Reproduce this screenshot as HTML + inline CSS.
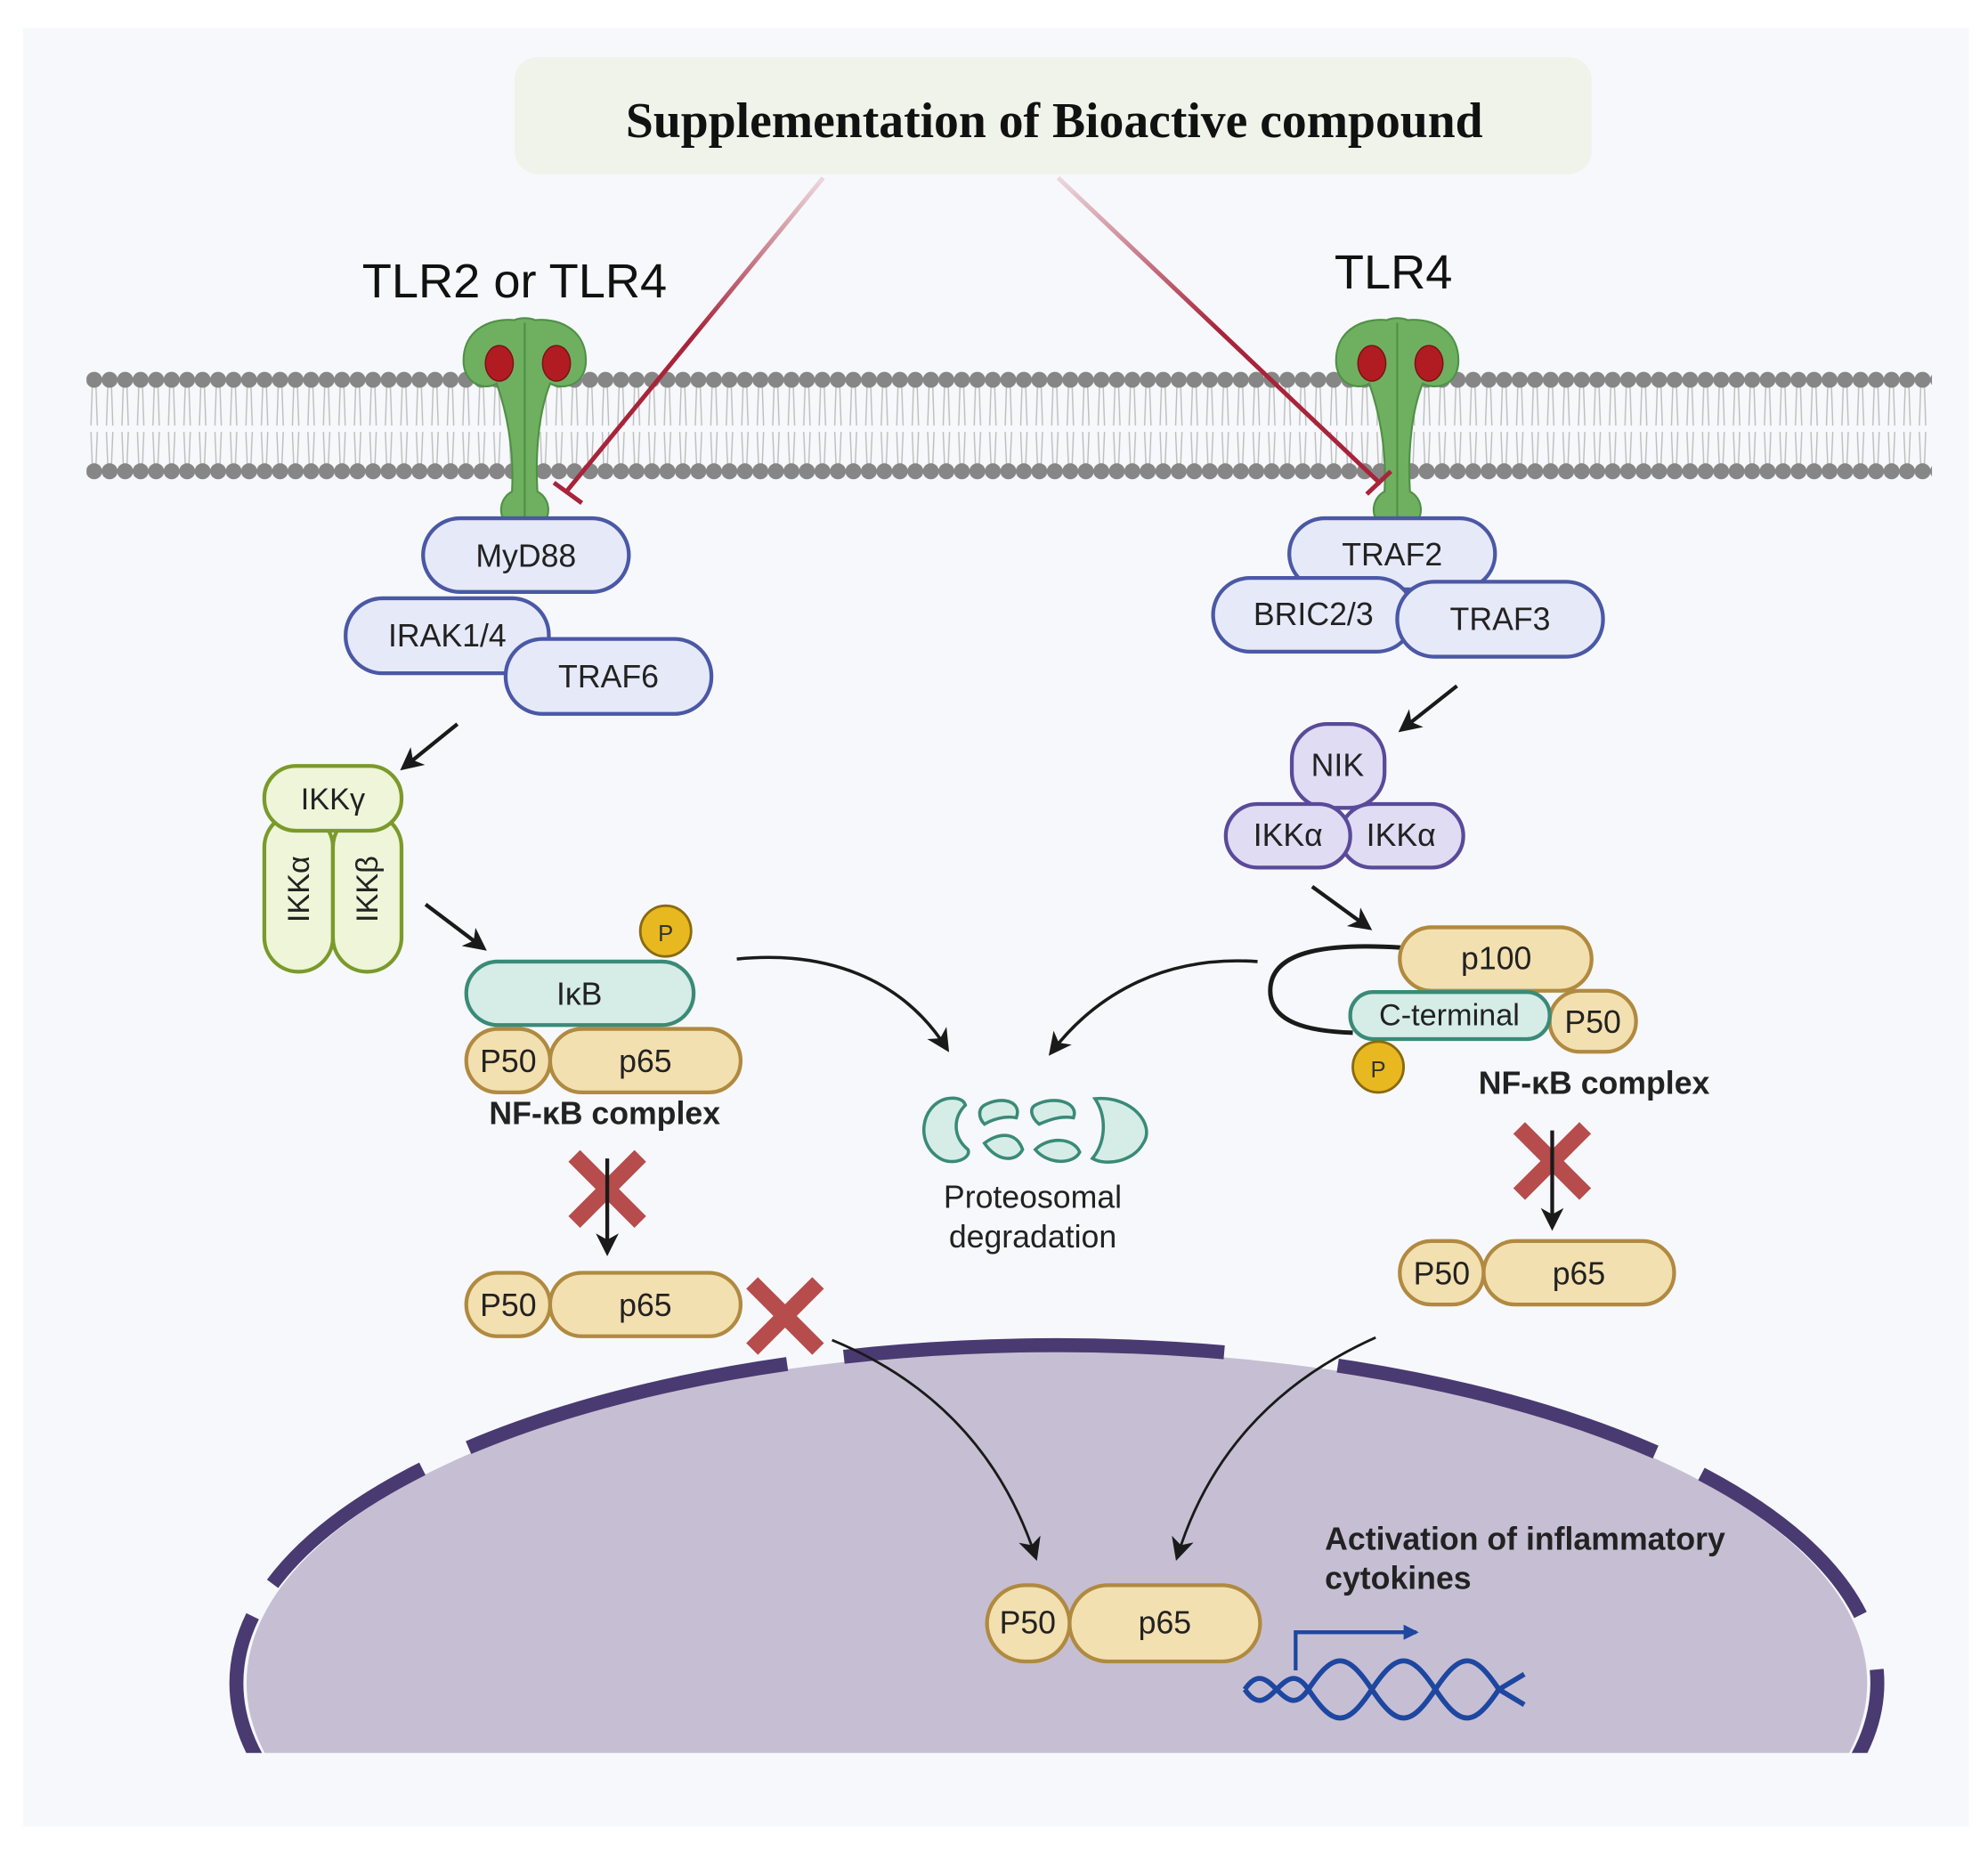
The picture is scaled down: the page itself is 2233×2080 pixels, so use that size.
<!DOCTYPE html>
<html><head><meta charset="utf-8"><style>
html,body{margin:0;padding:0;background:#fff;overflow:hidden;width:2233px;height:2080px;}
svg{display:block;}
text{font-family:"Liberation Sans","DejaVu Sans",sans-serif;}
</style></head><body>
<svg width="2233" height="2080" viewBox="0 0 1565 1458" xmlns="http://www.w3.org/2000/svg">
<defs>
<pattern id="lip" x="68" y="0" width="12.2" height="1458" patternUnits="userSpaceOnUse">
<path d="M4.5 305 L3.5 335 M7.5 305 L8.5 335 M3.5 340 L4.5 365 M8.5 340 L7.5 365" stroke="#bdbdbd" stroke-width="1" fill="none"/>
<circle cx="6" cy="299" r="6.3" fill="#868686"/>
<circle cx="6" cy="371" r="6.3" fill="#868686"/>
</pattern>
<linearGradient id="g1" x1="0" y1="0" x2="0" y2="1"><stop offset="0" stop-color="#a8243a" stop-opacity="0.15"/><stop offset="0.5" stop-color="#a8243a"/></linearGradient>
<marker id="ar2" markerWidth="18" markerHeight="18" refX="14" refY="9" orient="auto" markerUnits="userSpaceOnUse" viewBox="0 0 18 18"><path d="M0 0 L18 9 L0 18 L5 9Z" fill="#1a1a1a"/></marker>
<marker id="arb" markerWidth="14" markerHeight="14" refX="10" refY="7" orient="auto" markerUnits="userSpaceOnUse"><path d="M0 1 L12 7 L0 13Z" fill="#1d47a0"/></marker>
<clipPath id="nc"><rect x="0" y="0" width="1565" height="1380"/></clipPath>
<g id="rec">
<path d="M-8 -40 C-30 -42 -50 -30 -48 -5 C-46 12 -30 15 -22 10 C-15 30 -8 60 -10 95 C-20 100 -22 115 -12 122 C-5 126 5 126 12 122 C22 115 20 100 10 95 C8 60 12 30 20 10 C30 15 46 12 48 -5 C50 -30 30 -42 8 -40 C4 -42 -4 -42 -8 -40Z" fill="#6fb060" stroke="#4e9146" stroke-width="1.5"/>
<path d="M0 -38 L0 122" stroke="#4e9146" stroke-width="1.5"/>
<ellipse cx="-20" cy="-6" rx="11" ry="14" fill="#b01c22" stroke="#7a1015"/>
<ellipse cx="25" cy="-6" rx="11" ry="14" fill="#b01c22" stroke="#7a1015"/>
</g>
</defs>
<rect x="0" y="0" width="1565" height="1458" fill="#fff"/>
<rect x="18" y="22" width="1532" height="1416" fill="#f7f8fb"/>
<rect x="405" y="45" width="848" height="92" rx="18" fill="#eff3ea"/>
<text x="830" y="108" text-anchor="middle" font-weight="bold" font-size="39" fill="#111" style="font-family:'Liberation Serif',serif">Supplementation of Bioactive compound</text>
<text x="405" y="234" text-anchor="middle" font-size="38" fill="#111">TLR2 or TLR4</text>
<text x="1097" y="227" text-anchor="middle" font-size="38" fill="#111">TLR4</text>
<rect x="68" y="288" width="1453" height="95" fill="url(#lip)"/>
<use href="#rec" x="413" y="292"/>
<use href="#rec" x="1100" y="292"/>
<path d="M648 140 L445 388" stroke="url(#g1)" stroke-width="3.5" fill="none"/>
<path d="M436 380 L458 396" stroke="#a8243a" stroke-width="3.5"/>
<path d="M833 140 L1087 381" stroke="url(#g1)" stroke-width="3.5" fill="none"/>
<path d="M1076 389 L1095 371" stroke="#a8243a" stroke-width="3.5"/>
<g stroke="#4a58a6" stroke-width="3" fill="#e6eaf8">
<rect x="333" y="408" width="162" height="58" rx="29"/>
<rect x="272" y="471" width="160" height="59" rx="29"/>
<rect x="398" y="503" width="162" height="59" rx="29"/>
<rect x="1015" y="408" width="162" height="56" rx="28"/>
<rect x="955" y="455" width="158" height="58" rx="29"/>
<rect x="1100" y="458" width="162" height="59" rx="29"/>
</g>
<g font-size="25" fill="#222" text-anchor="middle">
<text x="414" y="446">MyD88</text>
<text x="352" y="509">IRAK1/4</text>
<text x="479" y="541">TRAF6</text>
<text x="1096" y="445">TRAF2</text>
<text x="1034" y="492">BRIC2/3</text>
<text x="1181" y="496">TRAF3</text>
</g>
<g stroke="#1a1a1a" stroke-width="3" fill="none" marker-end="url(#ar2)">
<path d="M360 570 L318 604"/>
<path d="M1147 540 L1104 574"/>
<path d="M335 712 L380 746"/>
<path d="M1033 698 L1077 730"/>
</g>
<g stroke="#7a9a2a" stroke-width="3" fill="#eef5d8">
<rect x="208" y="640" width="54" height="125" rx="27"/>
<rect x="262" y="640" width="54" height="125" rx="27"/>
<rect x="208" y="603" width="108" height="51" rx="25"/>
</g>
<text x="262" y="637" text-anchor="middle" font-size="24" fill="#222">IKKγ</text>
<text transform="translate(243 700) rotate(-90)" text-anchor="middle" font-size="24" fill="#222">IKKα</text>
<text transform="translate(297 700) rotate(-90)" text-anchor="middle" font-size="24" fill="#222">IKKβ</text>
<circle cx="524" cy="733" r="20" fill="#e8b820" stroke="#8a6a10" stroke-width="2"/>
<text x="524" y="741" text-anchor="middle" font-size="18" fill="#333">P</text>
<rect x="367" y="757" width="179" height="50" rx="25" fill="#d5ede6" stroke="#3a8a78" stroke-width="3"/>
<text x="456" y="791" text-anchor="middle" font-size="25" fill="#222">IκB</text>
<g stroke="#b08a40" stroke-width="3" fill="#f3e0b0">
<rect x="433" y="810" width="150" height="50" rx="25"/>
<rect x="367" y="810" width="66" height="50" rx="25"/>
<rect x="433" y="1002" width="150" height="50" rx="25"/>
<rect x="367" y="1002" width="66" height="50" rx="25"/>
<rect x="1168" y="977" width="150" height="50" rx="25"/>
<rect x="1102" y="977" width="66" height="50" rx="25"/>
</g>
<g font-size="25" fill="#222" text-anchor="middle">
<text x="400" y="844">P50</text><text x="508" y="844">p65</text>
<text x="400" y="1036">P50</text><text x="508" y="1036">p65</text>
<text x="1135" y="1011">P50</text><text x="1243" y="1011">p65</text>
</g>
<text x="476" y="885" text-anchor="middle" font-size="25" font-weight="bold" fill="#222">NF-κB complex</text>
<g stroke="#b03a3a" stroke-width="13" opacity="0.9">
<path d="M452 910 L504 962 M504 910 L452 962"/>
<path d="M592 1010 L644 1062 M644 1010 L592 1062"/>
<path d="M1196 888 L1248 940 M1248 888 L1196 940"/>
</g>
<g stroke="#1a1a1a" stroke-width="3" marker-end="url(#ar2)">
<path d="M478 912 L478 985"/>
<path d="M1222 890 L1222 965"/>
</g>
<g stroke="#5a4a9a" stroke-width="3" fill="#e0dcf3">
<rect x="1017" y="570" width="73" height="66" rx="28"/>
<rect x="1055" y="633" width="97" height="50" rx="25"/>
<rect x="965" y="633" width="98" height="50" rx="25"/>
</g>
<g font-size="25" fill="#222" text-anchor="middle">
<text x="1053" y="611">NIK</text>
<text x="1014" y="666">IKKα</text>
<text x="1103" y="666">IKKα</text>
</g>
<path d="M1103 746 C1040 742 1000 750 1000 780 C1000 805 1030 812 1065 813" stroke="#1a1a1a" stroke-width="3.5" fill="none"/>
<rect x="1102" y="730" width="151" height="50" rx="25" fill="#f3e0b0" stroke="#b08a40" stroke-width="3"/>
<text x="1178" y="763" text-anchor="middle" font-size="25" fill="#222">p100</text>
<rect x="1220" y="780" width="68" height="48" rx="24" fill="#f3e0b0" stroke="#b08a40" stroke-width="3"/>
<text x="1254" y="813" text-anchor="middle" font-size="25" fill="#222">P50</text>
<rect x="1063" y="781" width="157" height="37" rx="18" fill="#d5ede6" stroke="#3a8a78" stroke-width="3"/>
<text x="1141" y="807" text-anchor="middle" font-size="24" fill="#222">C-terminal</text>
<circle cx="1085" cy="840" r="20" fill="#e8b820" stroke="#8a6a10" stroke-width="2"/>
<text x="1085" y="848" text-anchor="middle" font-size="18" fill="#333">P</text>
<text x="1255" y="861" text-anchor="middle" font-size="25" font-weight="bold" fill="#222">NF-κB complex</text>
<g fill="#d5ede6" stroke="#3a8a78" stroke-width="2.5">
<path d="M745 865 C725 870 720 900 740 912 C750 918 765 912 762 905 C750 895 750 880 760 870 C758 864 750 864 745 865Z"/>
<path d="M775 870 C790 862 805 868 800 880 C790 878 780 882 775 885 C770 880 770 873 775 870Z"/>
<path d="M775 900 C785 892 800 890 805 905 C800 915 785 915 775 900Z"/>
<path d="M815 870 C830 862 850 868 845 880 C835 878 825 882 818 885 C812 880 810 873 815 870Z"/>
<path d="M815 905 C825 895 845 895 850 907 C845 917 825 917 815 905Z"/>
<path d="M862 865 C890 862 910 885 900 900 C892 915 870 918 860 912 C870 900 872 880 862 865Z"/>
</g>
<text x="813" y="951" text-anchor="middle" font-size="25" fill="#222">Proteosomal</text>
<text x="813" y="982" text-anchor="middle" font-size="25" fill="#222">degradation</text>
<g stroke="#1a1a1a" stroke-width="2.5" fill="none" marker-end="url(#ar2)">
<path d="M580 755 C650 748 710 770 745 825"/>
<path d="M990 757 C920 752 865 780 828 828"/>
</g>
<g clip-path="url(#nc)">
<ellipse cx="832" cy="1325" rx="638" ry="262" fill="#c6bfd3"/>
<ellipse cx="832" cy="1325" rx="646" ry="266" fill="none" stroke="#4a3a72" stroke-width="11" stroke-dasharray="150 40 260 45 300 90 260 40 170 45 150 30"/>
</g>
<g stroke="#1a1a1a" stroke-width="2" fill="none" marker-end="url(#ar2)">
<path d="M655 1055 C740 1090 790 1150 815 1225"/>
<path d="M1083 1053 C1000 1090 950 1150 927 1225"/>
</g>
<g stroke="#b08a40" stroke-width="3" fill="#f3e0b0">
<rect x="842" y="1248" width="150" height="60" rx="30"/>
<rect x="777" y="1248" width="65" height="60" rx="30"/>
</g>
<g font-size="25" fill="#222" text-anchor="middle">
<text x="809" y="1286">P50</text><text x="917" y="1286">p65</text>
</g>
<text x="1043" y="1220" font-size="25" font-weight="bold" fill="#222">Activation of inflammatory</text>
<text x="1043" y="1251" font-size="25" font-weight="bold" fill="#222">cytokines</text>
<g stroke="#1d47a0" stroke-width="4" fill="none">
<path d="M980 1330 C1000 1300 1010 1360 1030 1330 S1060 1300 1080 1330 S1110 1360 1130 1330 S1160 1300 1180 1330 L1200 1318"/>
<path d="M980 1330 C1000 1360 1010 1300 1030 1330 S1060 1360 1080 1330 S1110 1300 1130 1330 S1160 1360 1180 1330 L1200 1342"/>
</g>
<path d="M1020 1315 L1020 1285 L1115 1285" stroke="#1d47a0" stroke-width="3" fill="none" marker-end="url(#arb)"/>
</svg>
</body></html>
